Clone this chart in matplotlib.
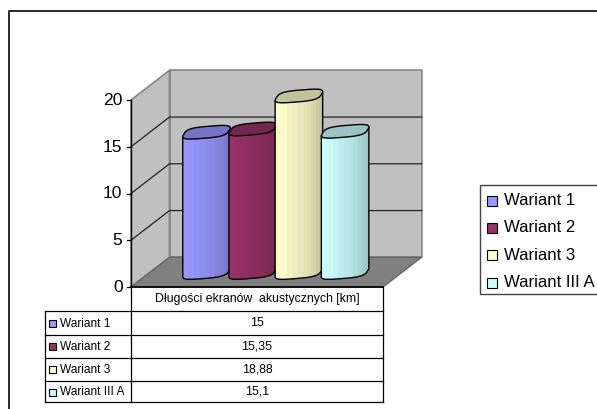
import numpy as np
import matplotlib
matplotlib.use('Agg')
import matplotlib.pyplot as plt
from matplotlib.patches import Polygon, Rectangle

plt.rcParams['font.family'] = ['Liberation Sans', 'DejaVu Sans']

names = ['Wariant 1', 'Wariant 2', 'Wariant 3', 'Wariant III A']
values = [15, 15.35, 18.88, 15.1]
value_labels = ['15', '15,35', '18,88', '15,1']
colors = ['#9999FF', '#993366', '#FFFFCC', '#CCFFFF']
y_ticks = [0, 5, 10, 15, 20]
table_title = 'Długości ekranów  akustycznych [km]'

W, H = 597, 409
Y0, Y20 = 287.0, 100.0
PX_PER_UNIT = (Y0 - Y20) / 20
DX, DY = 38.5, 29.7          # depth of the 3d box
BAR0_X, BAR_STEP = 206.5, 46.2
BAR_W = 47.5
BAR_BASE = 272.5             # pixel row where the cylinders stand
CAP_H = 5.8


def shade(color, f):
    rgb = np.array(matplotlib.colors.to_rgb(color))
    return tuple(rgb * f)


def cap_outline(cx, cy, n=160):
    # cylinder cap: a rounded shape sheared both ways
    t = np.linspace(0, 2 * np.pi, n, endpoint=False)
    p = 0.6
    x = np.sign(np.cos(t)) * np.abs(np.cos(t)) ** p
    y = np.sign(np.sin(t)) * np.abs(np.sin(t)) ** p
    sx = x - 0.16 * y
    sx = sx / np.abs(sx).max() * BAR_W / 2
    sy = y * CAP_H - 0.08 * sx
    return cx + sx, cy + sy


def to_data(px, py):
    return (np.asarray(px) - BAR0_X) / BAR_STEP, (Y0 - np.asarray(py)) / PX_PER_UNIT


fig = plt.figure(figsize=(W / 100, H / 100), dpi=100)

# pixel axes for the box, frame, table and legend
ax = fig.add_axes([0, 0, 1, 1])
ax.set_xlim(0, W)
ax.set_ylim(H, 0)
ax.axis('off')

ax.plot([9, 9, W], [H, 11, 11], color='#2a2a2a', lw=1.4, solid_capstyle='butt')

left, right = 131.0, 383.0
wall = '#C0C0C0'
edge = '#808080'
ax.add_patch(Polygon([(left + DX, Y0 - DY), (right + DX, Y0 - DY), (right + DX, Y20 - DY),
                      (left + DX, Y20 - DY)], fc=wall, ec=edge, lw=1.1))
ax.add_patch(Polygon([(left, Y0), (left + DX, Y0 - DY), (left + DX, Y20 - DY), (left, Y20)],
                     fc=wall, ec=edge, lw=1.1))
ax.add_patch(Polygon([(left, Y0), (right, Y0), (right + DX, Y0 - DY), (left + DX, Y0 - DY)],
                     fc='#808080', ec='#666666', lw=1))

for tick in y_ticks:
    yp = Y0 - tick * PX_PER_UNIT
    if 0 < tick < 20:
        ax.plot([left, left + DX, right + DX], [yp, yp - DY, yp - DY], color='#222222', lw=0.9)
    ax.plot([left - 4, left], [yp, yp], color='black', lw=0.9)
    ax.text(left - 8.5, yp + 0.5, str(tick), ha='right', va='center', fontsize=12.6, color='black')
ax.plot([left, left], [Y0, Y20], color='black', lw=1)
ax.plot([left, right], [Y0, Y0], color='black', lw=1.2)

# cylinders on their own axes, y in chart units, x in category numbers
bars = fig.add_axes([0, 0, 1, 1])
bars.axis('off')
bars.patch.set_alpha(0)
bars.set_xlim(-BAR0_X / BAR_STEP, (W - BAR0_X) / BAR_STEP)
bars.set_ylim((Y0 - H) / PX_PER_UNIT, Y0 / PX_PER_UNIT)
base_value = (Y0 - BAR_BASE) / PX_PER_UNIT

strip_f = [1.0, 0.98, 0.955, 0.93, 0.91, 0.89, 0.87, 0.85, 0.83, 0.80, 0.78, 0.76]
strip_edges = np.array([0, .10, .24, .36, .48, .58, .66, .74, .80, .86, .92, .96, 1.0])

for i, (v, c) in enumerate(zip(values, colors)):
    top_px = Y0 - (base_value + v) * PX_PER_UNIT
    cx = i * BAR_STEP + BAR0_X
    capx, capy = cap_outline(cx, top_px)
    botx, boty = cap_outline(cx, BAR_BASE)

    # body: lower half of the base, then straight up the sides to the cap
    a = np.argmax(botx)
    botx, boty = np.roll(botx, -a), np.roll(boty, -a)
    capx_r, capy_r = np.roll(capx, -a), np.roll(capy, -a)
    b = np.argmin(botx)
    body_x = np.r_[botx[:b + 1], capx_r[b], capx_r[0]]
    body_y = np.r_[boty[:b + 1], capy_r[b], capy_r[0]]
    dx, dy = to_data(body_x, body_y)
    body = Polygon(np.c_[dx, dy], fc='none', ec='black', lw=1.0, zorder=3 + i * 3)
    bars.add_patch(body)
    for j, f in enumerate(strip_f):
        sx, _ = to_data(cx - BAR_W / 2 + strip_edges[j:j + 2] * BAR_W, [0, 0])
        r = Rectangle((sx[0], -10), sx[1] - sx[0] + 0.01, 50, fc=shade(c, f), ec='none', zorder=2 + i * 3)
        bars.add_patch(r)
        r.set_clip_path(body.get_path(), body.get_transform())
    capdx, capdy = to_data(capx, capy)
    bars.add_patch(Polygon(np.c_[capdx, capdy], fc=shade(c, 0.76), ec='black', lw=1.0, zorder=4 + i * 3))

# data table under the chart
tab = fig.add_axes([0, 0, 1, 1])
tab.set_xlim(0, W)
tab.set_ylim(H, 0)
tab.axis('off')
tab.patch.set_alpha(0)
row_y = [287.3, 311, 335, 357.7, 380.7, 402.3]
tab_left = 45.0
tab.text((left + right) / 2, (row_y[0] + row_y[1]) / 2, table_title, ha='center', va='center',
         fontsize=8.85, color='black')
for y in row_y[1:]:
    tab.plot([tab_left, right], [y, y], color='black', lw=0.9)
tab.plot([left, left], [row_y[0], row_y[-1]], color='black', lw=0.9)
tab.plot([right, right], [row_y[0], row_y[-1]], color='black', lw=0.9)
tab.plot([tab_left, tab_left], [row_y[1], row_y[-1]], color='black', lw=0.9)
for i, name in enumerate(names):
    ym = (row_y[i + 1] + row_y[i + 2]) / 2
    tab.add_patch(Rectangle((48.5, ym - 3), 7, 7, fc=colors[i], ec='black', lw=0.8))
    tab.text(60, ym + 0.8, name, ha='left', va='center', fontsize=8.6, color='black')
    tab.text((left + right) / 2, ym, value_labels[i], ha='center', va='center', fontsize=8.9, color='black')

# legend box, runs off the right side
tab.add_patch(Rectangle((479.5, 184.5), 130, 109.5, fc='white', ec='#444444', lw=1))
for i, name in enumerate(names):
    ym = 200.7 + i * 27.3
    tab.add_patch(Rectangle((486.5, ym - 5), 10, 10, fc=colors[i], ec='black', lw=0.8))
    tab.text(504, ym, name, ha='left', va='center', fontsize=12.1, color='black')

fig.savefig('out.png', dpi=100)
